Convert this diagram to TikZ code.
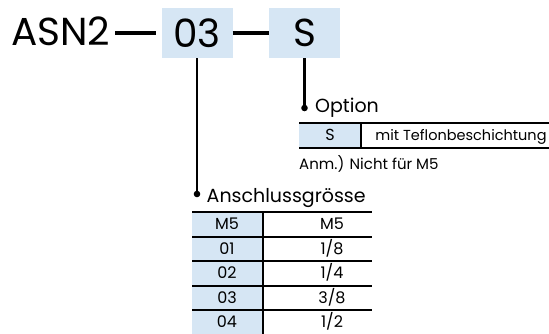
\documentclass[tikz,border=0pt]{standalone}
\usepackage{fontspec}
\setmainfont{Poppins}

\definecolor{codeblue}{RGB}{214,230,244}

\begin{document}
\begin{tikzpicture}[x=1pt,y=-1pt]

\tikzset{code/.style = {fill=codeblue,minimum width=71pt,minimum height=50pt,inner sep=0pt,font=\fontsize{39}{40}\selectfont}}
\tikzset{title/.style = {anchor=base west,inner sep=0pt,font=\fontsize{19}{20}\selectfont}}
\tikzset{cell/.style = {inner sep=0pt,text height=11pt,text depth=0pt,font=\fontsize{16}{17}\selectfont}}
\tikzset{link/.style = {line width=3.8pt}}
\tikzset{stem/.style = {line width=2.7pt}}
\tikzset{rule/.style = {line width=2pt}}

\useasboundingbox (0,0) rectangle (549,334);

% order code
\node[anchor=base west,inner sep=0pt,font=\fontsize{39}{40}\selectfont] (asn) at (11,46) {ASN2};
\node[code] (size) at (197,33) {03};
\node[code] (opt) at (304.5,33) {S};

\draw[link,shorten <=5pt,shorten >=5pt] (asn.east |- size.west) -- (size.west);
\draw[link] (size.east) -- (opt.west);

% option
\coordinate (optdot) at (304.5,108);
\node[title] (opthead) at (315,113) {Option};
\draw[stem] (opt.south) -- (optdot);
\fill (optdot) circle (3.3pt);

\fill[codeblue] (299,123) rectangle (361,148);
\draw[rule] (299,123) -- (549,123);
\draw[rule] (299,148) -- (549,148);
\draw[rule] (361,123) -- (361,148);
\node[cell] (optkey) at (330,135.5) {S};
\node[cell,text height=10pt,font=\fontsize{14.5}{15}\selectfont] (optval) at (461,135.5) {mit Teflonbeschichtung};
\node[anchor=base west,inner sep=0pt,font=\fontsize{15}{16}\selectfont] (optnote) at (299,170) {Anm.) Nicht für M5};

% port size
\coordinate (sizedot) at (197,194);
\node[title] (sizehead) at (206.5,202) {Anschlussgrösse};
\draw[stem] (size.south) -- (sizedot);
\fill (sizedot) circle (3.3pt);

\fill[codeblue] (192,212) rectangle (263,340);
\foreach \key/\val [count=\i] in {M5/M5,01/{1/8},02/{1/4},03/{3/8},04/{1/2}} {
  \node[cell] (key\i) at (227,199.75+24.5*\i) {\key};
  \node[cell] (val\i) at (332,199.75+24.5*\i) {\val};
  \draw[rule] (192,212+24.5*\i) -- (372,212+24.5*\i);
}
\draw[line width=2.7pt] (192,212) -- (372,212);
\draw[rule] (263,212) -- (263,340);

\end{tikzpicture}
\end{document}
